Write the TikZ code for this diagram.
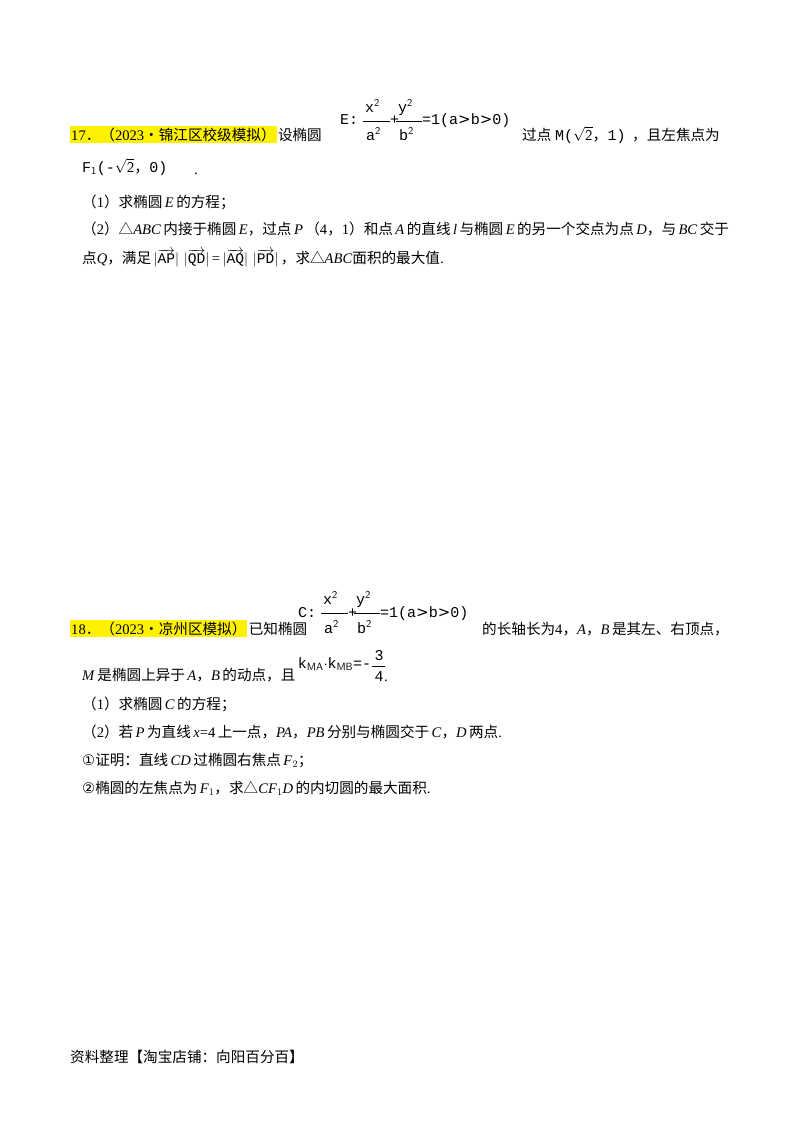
\documentclass[tikz,border=0pt]{standalone}
\usepackage{fontspec}
\setmainfont{Liberation Serif}
\newfontfamily\cjk{Noto Sans CJK SC}
\newfontfamily\mono{Liberation Mono}
\newfontfamily\dv{DejaVu Sans}
\newcommand\vabs[1]{\,$|\overrightarrow{\hbox{\mono #1}}|$\,}
\begin{document}
\begin{tikzpicture}[x=1pt,y=-1pt,
  t/.style={anchor=base west,inner sep=0pt,font=\fontsize{14.6}{16}\selectfont},
  hl/.style={t,fill=yellow,inner ysep=2pt,inner xsep=1pt},
  f/.style={anchor=base west,inner sep=0pt,font=\mono\fontsize{15}{16}\selectfont}]
\useasboundingbox[fill=white] (0,0) rectangle (800,1132);
% Problem 17
\node[hl] (h17) at (70,140) {17{\cjk ．（}2023{\cjk •锦江区校级模拟）}};
\node[t] (a17) at ([xshift=1pt]h17.base east) {\cjk 设椭圆};
\node[f] (e1) at (340,124) {E:};
\node[f] (e2) at (365,112) {x$^{\mathsf 2}$};
\draw (363,121) -- (390,121);
\node[f] (e3) at (366,140) {a$^{\mathsf 2}$};
\node[f] (e4) at (390,124) {+};
\node[f] (e5) at (398,112) {y$^{\mathsf 2}$};
\draw (396,121) -- (422,121);
\node[f] (e6) at (399,140) {b$^{\mathsf 2}$};
\node[f] (e7) at (422,124) {=1(a{\dv>}b{\dv>}0)};
\node[t] (b17) at (522,140) {\cjk 过点};
\node[f] (m17) at (555,140) {M($\sqrt{\mathsf 2}${\cjk ，}1)};
\node[t] (c17) at (632,140) {\cjk ，且左焦点为};
\node[f] (f1) at (82,172) {F$_{\mathsf 1}$(-$\sqrt{\mathsf 2}${\cjk ，}0)};
\node[t] (dot1) at (194,174) {.};
\node[t] (q1) at (82,207) {{\cjk（}1{\cjk）求椭圆}\,\textit{E}\,{\cjk 的方程；}};
\node[t] (q2) at (82,234) {{\cjk（}2{\cjk）△}\textit{ABC}\,{\cjk 内接于椭圆}\,\textit{E}{\cjk ，过点}\,\textit{P}\,{\cjk（}4{\cjk ，}1{\cjk ）和点}\,\textit{A}\,{\cjk 的直线}\,\textit{l}\,{\cjk 与椭圆}\,\textit{E}\,{\cjk 的另一个交点为点}\,\textit{D}{\cjk ，与}\,\textit{BC}\,{\cjk 交于}};
\node[t] (q3) at (82,263) {{\cjk 点}\textit{Q}{\cjk ，满足}\vabs{AP}\vabs{QD}={\vabs{AQ}}\vabs{PD}{\cjk ，求△}\textit{ABC}{\cjk 面积的最大值}.};
% Problem 18
\node[hl] (h18) at (70,634) {18{\cjk ．（}2023{\cjk •凉州区模拟）}};
\node[t] (a18) at ([xshift=1pt]h18.base east) {\cjk 已知椭圆};
\node[f] (c1) at (298,617) {C:};
\node[f] (c2) at (323,604) {x$^{\mathsf 2}$};
\draw (321,613) -- (348,613);
\node[f] (c3) at (324,633) {a$^{\mathsf 2}$};
\node[f] (c4) at (348,617) {+};
\node[f] (c5) at (356,604) {y$^{\mathsf 2}$};
\draw (354,613) -- (380,613);
\node[f] (c6) at (357,633) {b$^{\mathsf 2}$};
\node[f] (c7) at (380,617) {=1(a{\dv>}b{\dv>}0)};
\node[t] (b18) at (482,634) {{\cjk 的长轴长为}4{\cjk ，}\textit{A}{\cjk ，}\textit{B}\,{\cjk 是其左、右顶点，}};
\node[t] (m18) at (82,680) {\textit{M}\,{\cjk 是椭圆上异于}\,\textit{A}{\cjk ，}\textit{B}\,{\cjk 的动点，且}};
\node[f] (k18) at ([xshift=2pt,yshift=12pt]m18.base east) {k$_{\mathsf{MA}}$$\cdot$k$_{\mathsf{MB}}$=-};
\coordinate (kf) at ([xshift=1pt]k18.base east);
\node[f] (k3) at ([xshift=2pt,yshift=8pt]kf) {3};
\draw ([yshift=2pt]kf) -- ([xshift=13pt,yshift=2pt]kf);
\node[f] (k4) at ([xshift=2pt,yshift=-13pt]kf) {4};
\node[t] (kd) at (k4.base east) {.};
\node[t] (r1) at (82,709) {{\cjk（}1{\cjk）求椭圆}\,\textit{C}\,{\cjk 的方程；}};
\node[t] (r2) at (82,737) {{\cjk（}2{\cjk）若}\,\textit{P}\,{\cjk 为直线}\,\textit{x}=4\,{\cjk 上一点，}\textit{PA}{\cjk ，}\textit{PB}\,{\cjk 分别与椭圆交于}\,\textit{C}{\cjk ，}\textit{D}\,{\cjk 两点}.};
\node[t] (r3) at (82,765) {{\dv ①}{\cjk 证明：直线}\,\textit{CD}\,{\cjk 过椭圆右焦点}\,\textit{F}$_2${\cjk ；}};
\node[t] (r4) at (82,793) {{\dv ②}{\cjk 椭圆的左焦点为}\,\textit{F}$_1${\cjk ，求△}\textit{CF}$_1$\textit{D}\,{\cjk 的内切圆的最大面积}.};
\node[t] (foot) at (70,1062) {\cjk 资料整理【淘宝店铺：向阳百分百】};
\end{tikzpicture}
\end{document}
